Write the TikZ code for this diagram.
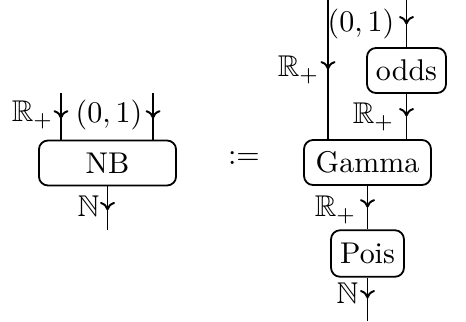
\documentclass[tikz,border=0pt]{standalone}
\usepackage{amssymb}
\usetikzlibrary{arrows.meta,decorations.markings}
\tikzset{
  box/.style={draw, rounded corners=3pt, line width=0.6pt, inner xsep=3pt, inner ysep=0pt, minimum height=15pt},
  wire/.style={line width=0.6pt, postaction={decorate},
    decoration={markings, mark=at position #1 with {\arrow{Computer Modern Rightarrow[width=5pt,length=2.8pt,line width=0.65pt]}}}},
  wire/.default=0.5,
  lbl/.style={inner sep=1pt}
}
\begin{document}
\begin{tikzpicture}[x=0.33333pt,y=-0.33333pt]
\useasboundingbox (0,0) rectangle (466,321);
% left diagram
\node[box, minimum width=45.7pt] (NB) at (107.5,163) {NB};
\coordinate (i1) at (61,93);
\coordinate (i2) at (153,93);
\coordinate (o1) at (107.5,230);
\draw[wire=0.55] (i1) -- (i1 |- NB.north);
\draw[wire=0.55] (i2) -- (i2 |- NB.north);
\draw[wire=0.55] (NB.south -| o1) -- (o1);
\node[lbl, anchor=east] (l1) at (57,115) {$\mathbb{R}_+$};
\node[lbl] (l2) at (109,115) {$(0,1)$};
\node[lbl, anchor=east] (l3) at (103,206) {$\mathbb{N}$};
% equals
\node (def) at (244,158) {$:=$};
% right diagram
\node[box, minimum width=26.3pt] (odds) at (406.5,70.5) {odds};
\node[box, minimum width=42.3pt] (G) at (367.5,162.5) {Gamma};
\node[box, minimum width=24.3pt, minimum height=15.5pt] (P) at (367.5,253.5) {Pois};
\coordinate (t1) at (328,0);
\coordinate (t2) at (406.5,0);
\coordinate (b1) at (367.5,321);
\draw[wire=0.5] (t1) -- (t1 |- G.north);
\draw[wire=0.52] (t2) -- (odds.north);
\draw[wire=0.5] (odds.south) -- (odds.south |- G.north);
\draw[wire=0.5] (G.south -| P.north) -- (P.north);
\draw[wire=0.48] (P.south) -- (b1);
\node[lbl, anchor=east] (r1) at (323,70) {$\mathbb{R}_+$};
\node[lbl, anchor=east] (r2) at (398,24) {$(0,1)$};
\node[lbl, anchor=east] (r3) at (398,117) {$\mathbb{R}_+$};
\node[lbl, anchor=east] (r4) at (360,210) {$\mathbb{R}_+$};
\node[lbl, anchor=east] (r5) at (362,293) {$\mathbb{N}$};
\end{tikzpicture}
\end{document}
